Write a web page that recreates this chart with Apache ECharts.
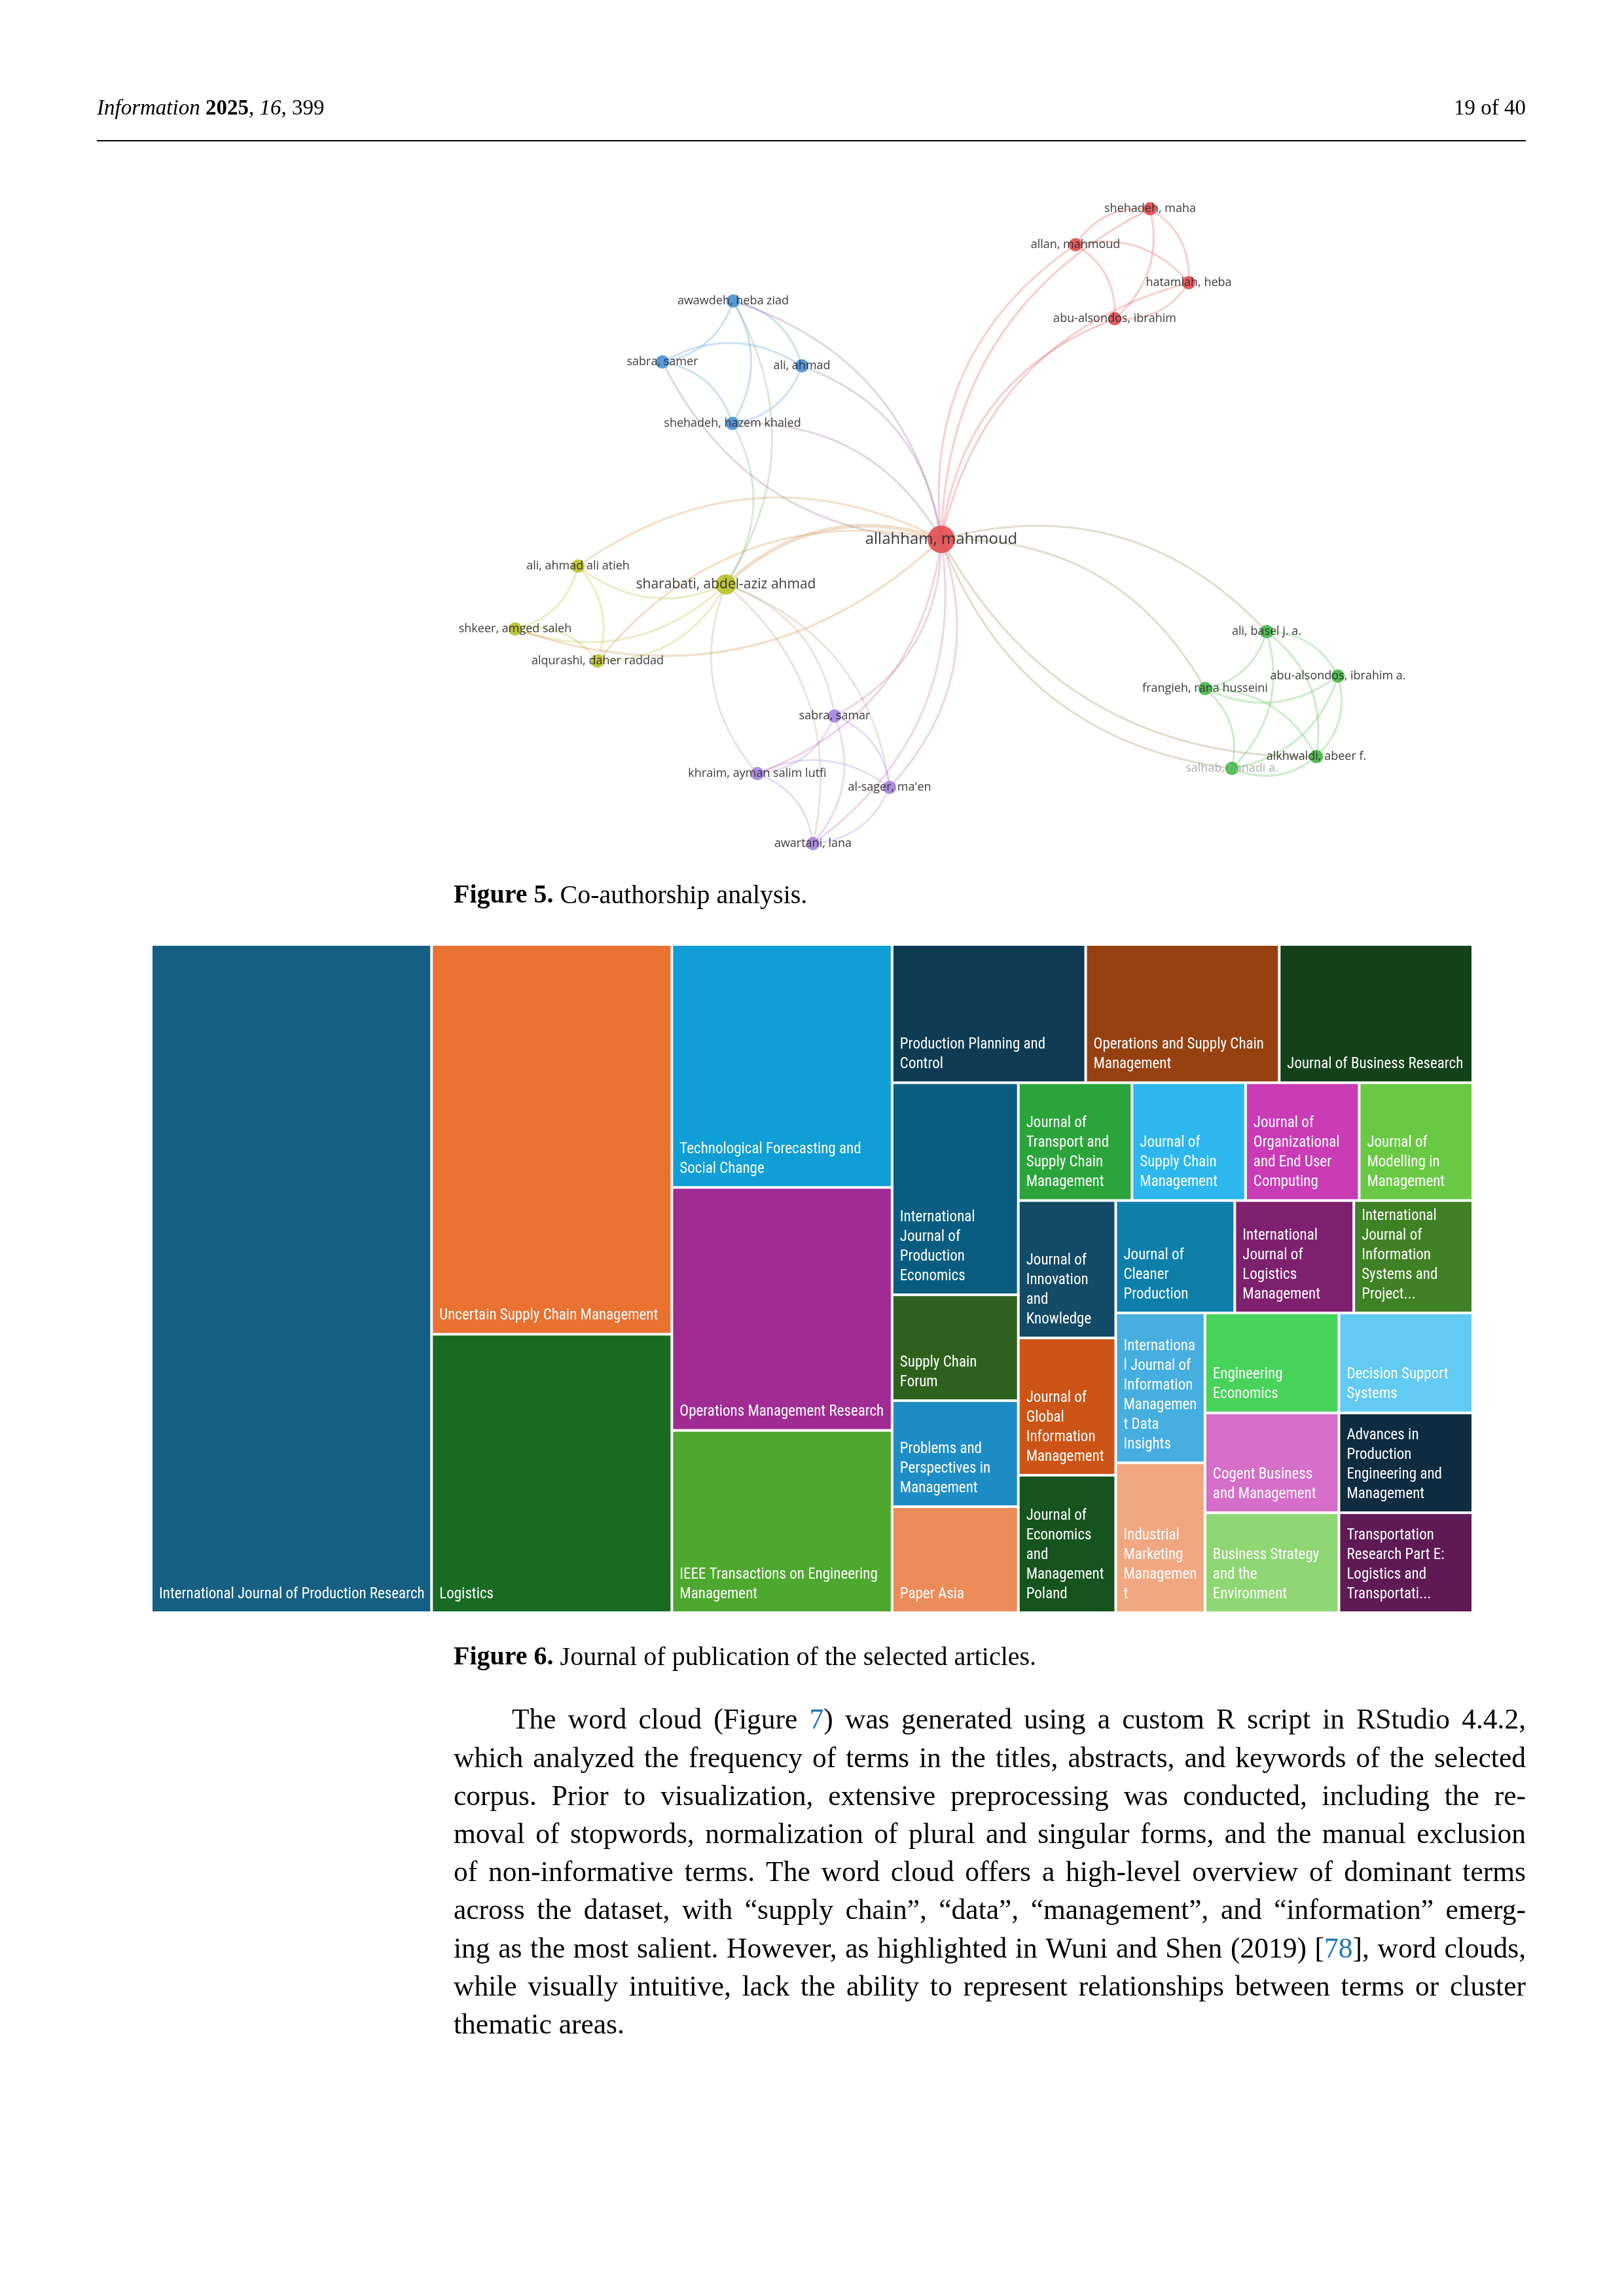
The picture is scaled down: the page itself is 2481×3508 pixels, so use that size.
<!DOCTYPE html>
<html>
<head>
<meta charset="utf-8">
<script src="https://cdn.jsdelivr.net/npm/echarts@6/dist/echarts.min.js"></script>
<style>
html,body{margin:0;padding:0;background:#fff;}
#page{width:2481px;height:3508px;}
</style>
</head>
<body>
<div id="page"></div>
<script>
// ---------------- Figure 5: co-authorship network (VOSviewer layout coordinates) ----------------
const authors = [
  'allahham, mahmoud', 'allan, mahmoud', 'shehadeh, maha', 'hatamlah, heba', 'abu-alsondos, ibrahim',
  'awawdeh, heba ziad', 'sabra, samer', 'ali, ahmad', 'shehadeh, hazem khaled',
  'sharabati, abdel-aziz ahmad', 'ali, ahmad ali atieh', 'shkeer, amged saleh', 'alqurashi, daher raddad',
  'sabra, samar', 'khraim, ayman salim lutfi', "al-sager, ma'en", 'awartani, lana',
  'ali, basel j. a.', 'abu-alsondos, ibrahim a.', 'frangieh, rana husseini', 'alkhwaldi, abeer f.', 'salhab, hanadi a.'
];
const authorX = [0, 0.410, 0.638, 0.756, 0.530, -0.636, -0.852, -0.426, -0.638, -0.658, -1.110, -1.302, -1.050,
  -0.326, -0.562, -0.158, -0.392, 0.994, 1.212, 0.806, 1.146, 0.888];
const authorY = [0, 0.900, 1.010, 0.784, 0.674, 0.728, 0.542, 0.530, 0.354, -0.138, -0.082, -0.274, -0.372,
  -0.540, -0.716, -0.758, -0.930, -0.282, -0.418, -0.456, -0.664, -0.700];
const authorDocs = [10, 2, 2, 2, 2, 2, 2, 2, 2, 6, 2, 2, 2, 2, 2, 2, 2, 2, 2, 2, 2, 2];
const authorCluster = ['red', 'red', 'red', 'red', 'red', 'blue', 'blue', 'blue', 'blue',
  'yellow', 'yellow', 'yellow', 'yellow', 'purple', 'purple', 'purple', 'purple',
  'green', 'green', 'green', 'green', 'green'];
const coauthorLinks = [
  ['allahham, mahmoud', 'allan, mahmoud', 1], ['allahham, mahmoud', 'shehadeh, maha', 1],
  ['allahham, mahmoud', 'hatamlah, heba', 1], ['allahham, mahmoud', 'abu-alsondos, ibrahim', 1],
  ['allan, mahmoud', 'shehadeh, maha', 1], ['allan, mahmoud', 'hatamlah, heba', 1],
  ['allan, mahmoud', 'abu-alsondos, ibrahim', 1], ['shehadeh, maha', 'hatamlah, heba', 1],
  ['shehadeh, maha', 'abu-alsondos, ibrahim', 1], ['hatamlah, heba', 'abu-alsondos, ibrahim', 1],
  ['awawdeh, heba ziad', 'sabra, samer', 1], ['awawdeh, heba ziad', 'ali, ahmad', 1],
  ['awawdeh, heba ziad', 'shehadeh, hazem khaled', 1], ['sabra, samer', 'ali, ahmad', 1],
  ['sabra, samer', 'shehadeh, hazem khaled', 1], ['ali, ahmad', 'shehadeh, hazem khaled', 1],
  ['awawdeh, heba ziad', 'allahham, mahmoud', 1], ['ali, ahmad', 'allahham, mahmoud', 1],
  ['shehadeh, hazem khaled', 'allahham, mahmoud', 1], ['allahham, mahmoud', 'sabra, samer', 1],
  ['awawdeh, heba ziad', 'sharabati, abdel-aziz ahmad', 1], ['shehadeh, hazem khaled', 'sharabati, abdel-aziz ahmad', 1],
  ['sharabati, abdel-aziz ahmad', 'ali, ahmad ali atieh', 1], ['sharabati, abdel-aziz ahmad', 'shkeer, amged saleh', 1],
  ['sharabati, abdel-aziz ahmad', 'alqurashi, daher raddad', 1], ['ali, ahmad ali atieh', 'shkeer, amged saleh', 1],
  ['ali, ahmad ali atieh', 'alqurashi, daher raddad', 1], ['shkeer, amged saleh', 'alqurashi, daher raddad', 1],
  ['sharabati, abdel-aziz ahmad', 'allahham, mahmoud', 3], ['ali, ahmad ali atieh', 'allahham, mahmoud', 1],
  ['allahham, mahmoud', 'shkeer, amged saleh', 1], ['alqurashi, daher raddad', 'allahham, mahmoud', 1],
  ['sharabati, abdel-aziz ahmad', 'sabra, samar', 1], ['khraim, ayman salim lutfi', 'sharabati, abdel-aziz ahmad', 1],
  ['sharabati, abdel-aziz ahmad', "al-sager, ma'en", 1], ['sharabati, abdel-aziz ahmad', 'awartani, lana', 1],
  ['sabra, samar', 'khraim, ayman salim lutfi', 1], ['sabra, samar', "al-sager, ma'en", 1],
  ['sabra, samar', 'awartani, lana', 1], ['khraim, ayman salim lutfi', "al-sager, ma'en", 1],
  ['khraim, ayman salim lutfi', 'awartani, lana', 1], ["al-sager, ma'en", 'awartani, lana', 1],
  ['allahham, mahmoud', 'sabra, samar', 1], ['allahham, mahmoud', 'khraim, ayman salim lutfi', 1],
  ['allahham, mahmoud', "al-sager, ma'en", 1], ['allahham, mahmoud', 'awartani, lana', 1],
  ['ali, basel j. a.', 'abu-alsondos, ibrahim a.', 1], ['ali, basel j. a.', 'frangieh, rana husseini', 1],
  ['ali, basel j. a.', 'alkhwaldi, abeer f.', 1], ['ali, basel j. a.', 'salhab, hanadi a.', 1],
  ['abu-alsondos, ibrahim a.', 'frangieh, rana husseini', 1], ['abu-alsondos, ibrahim a.', 'alkhwaldi, abeer f.', 1],
  ['abu-alsondos, ibrahim a.', 'salhab, hanadi a.', 1], ['frangieh, rana husseini', 'alkhwaldi, abeer f.', 1],
  ['frangieh, rana husseini', 'salhab, hanadi a.', 1], ['alkhwaldi, abeer f.', 'salhab, hanadi a.', 1],
  ['allahham, mahmoud', 'ali, basel j. a.', 1], ['allahham, mahmoud', 'frangieh, rana husseini', 1],
  ['alkhwaldi, abeer f.', 'allahham, mahmoud', 1], ['salhab, hanadi a.', 'allahham, mahmoud', 1]
];

// ---------------- Figure 6: journals treemap ----------------
const journals = [
  'International Journal of Production Research', 'Uncertain Supply Chain Management', 'Logistics',
  'Technological Forecasting and Social Change', 'Operations Management Research',
  'IEEE Transactions on Engineering Management', 'Production Planning and Control',
  'Operations and Supply Chain Management', 'Journal of Business Research',
  'International Journal of Production Economics',
  'Supply Chain Forum', 'Problems and Perspectives in Management', 'Paper Asia',
  'Journal of Transport and Supply Chain Management', 'Journal of Supply Chain Management',
  'Journal of Organizational and End User Computing', 'Journal of Modelling in Management',
  'Journal of Innovation and Knowledge', 'Journal of Global Information Management',
  'Journal of Economics and Management Poland', 'Journal of Cleaner Production',
  'International Journal of Logistics Management', 'International Journal of Information Systems and Project...',
  'International Journal of Information Management Data Insights', 'Industrial Marketing Management',
  'Engineering Economics', 'Decision Support Systems', 'Cogent Business and Management',
  'Business Strategy and the Environment', 'Advances in Production Engineering and Management',
  'Transportation Research Part E: Logistics and Transportati...'
];
const articleCounts = [14, 7, 5, 4, 4, 3, 2, 2, 2, 2,
  1, 1, 1, 1, 1, 1, 1, 1, 1, 1, 1, 1, 1, 1, 1, 1, 1, 1, 1, 1, 1];

// ---------------- styles (kept apart from data) ----------------
const clusterColors = { red: '#e24f53', blue: '#4b92d6', yellow: '#bcc22c', purple: '#a587e0', green: '#48b848' };
const journalColors = ['#156082', '#E97132', '#196B24', '#0F9ED5', '#A02B93', '#4EA72E', '#0E3B53', '#974111',
  '#13411A', '#0A5D80', '#2E611E', '#1F8DC5', '#EC8C5B', '#2CA43C', '#2DB7ED', '#C93CB6', '#6AC944', '#134A66',
  '#CC5416', '#15531F', '#0E7FAB', '#7F206F', '#3F8124', '#47AEE0', '#F1A882', '#48D35A', '#62CAF3', '#D66FC9',
  '#8FD774', '#0E2B40', '#5F1A55'];
const fadedLabels = ['salhab, hanadi a.'];

function hexToRgb(h) { h = h.replace('#', ''); return [0, 2, 4].map(i => parseInt(h.substr(i, 2), 16)); }
function linkColor(a, b, alpha) {
  const c1 = hexToRgb(clusterColors[a]), c2 = hexToRgb(clusterColors[b]);
  const m = c1.map((v, i) => Math.round((v + c2[i]) / 2));
  return 'rgba(' + m.join(',') + ',' + alpha + ')';
}
const clusterOf = {};
authors.forEach((n, i) => { clusterOf[n] = authorCluster[i]; });

const graphNodes = authors.map((n, i) => ({
  name: n,
  value: [authorX[i], authorY[i]],
  symbolSize: 15 + authorDocs[i] * 2.7,
  itemStyle: { color: clusterColors[authorCluster[i]], opacity: 0.92 },
  label: { fontSize: 18 + (authorDocs[i] - 2) * 0.75, color: fadedLabels.indexOf(n) >= 0 ? '#a8a8a8' : '#2b2b2b' }
}));
const graphLinks = coauthorLinks.map(([s, t, w]) => ({
  source: s, target: t,
  lineStyle: { width: 1.9 + w * 1.2, color: linkColor(clusterOf[s], clusterOf[t], 0.55) }
}));

// ---------------- page text ----------------
const serif = '"Liberation Serif", "Times New Roman", serif';
const graphics = [];
graphics.push({
  type: 'text', x: 148, y: 166,
  style: {
    text: '{i|Information} {b|2025}, {i|16}, 399', font: '33px ' + serif, fill: '#000', verticalAlign: 'middle',
    rich: { i: { font: 'italic 33px ' + serif }, b: { font: 'bold 33px ' + serif } }
  }
});
graphics.push({ type: 'text', x: 2331, y: 166, style: { text: '19 of 40', font: '33px ' + serif, fill: '#000', align: 'right', verticalAlign: 'middle' } });
graphics.push({ type: 'line', shape: { x1: 148, y1: 215, x2: 2331, y2: 215 }, style: { stroke: '#000', lineWidth: 2 } });
graphics.push({
  type: 'text', x: 693, y: 1369,
  style: { text: '{b|Figure 5.} Co-authorship analysis.', font: '40px ' + serif, fill: '#000', verticalAlign: 'middle',
    rich: { b: { font: 'bold 40px ' + serif } } }
});
graphics.push({
  type: 'text', x: 693, y: 2533,
  style: { text: '{b|Figure 6.} Journal of publication of the selected articles.', font: '40px ' + serif, fill: '#000', verticalAlign: 'middle',
    rich: { b: { font: 'bold 40px ' + serif } } }
});

const bodyLines = [
  'The word cloud (Figure {c|7}) was generated using a custom R script in RStudio 4.4.2,',
  'which analyzed the frequency of terms in the titles, abstracts, and keywords of the selected',
  'corpus. Prior to visualization, extensive preprocessing was conducted, including the re-',
  'moval of stopwords, normalization of plural and singular forms, and the manual exclusion',
  'of non-informative terms. The word cloud offers a high-level overview of dominant terms',
  'across the dataset, with \u201Csupply chain\u201D, \u201Cdata\u201D, \u201Cmanagement\u201D, and \u201Cinformation\u201D emerg-',
  'ing as the most salient. However, as highlighted in Wuni and Shen (2019) [{c|78}], word clouds,',
  'while visually intuitive, lack the ability to represent relationships between terms or cluster',
  'thematic areas.'
];
const strip = s => s.replace(/\{c\|([^}]*)\}/g, '$1');
const mctx = document.createElement('canvas').getContext('2d');
// choose a font size so that the widest justified line keeps normal word spacing
mctx.font = '42px ' + serif;
let worstRatio = 0;
bodyLines.slice(0, -1).forEach((line, i) => {
  const avail = i === 0 ? 2331 - 782 : 2331 - 693;
  worstRatio = Math.max(worstRatio, mctx.measureText(strip(line)).width / avail);
});
const bodySize = Math.min(46, 42 * 0.985 / worstRatio);
const bodyFont = bodySize.toFixed(1) + 'px ' + serif;
mctx.font = bodyFont;
bodyLines.forEach((line, i) => {
  const words = line.split(' ');
  const x0 = i === 0 ? 782 : 693;
  const right = 2331;
  const widths = words.map(w => mctx.measureText(strip(w)).width);
  const total = widths.reduce((a, b) => a + b, 0);
  const last = i === bodyLines.length - 1;
  const gap = last ? mctx.measureText(' ').width : (right - x0 - total) / (words.length - 1);
  let x = x0;
  words.forEach((w, j) => {
    graphics.push({
      type: 'text', x: x, y: 2630 + i * 58.2,
      style: { text: w, font: bodyFont, fill: '#000', verticalAlign: 'middle',
        rich: { c: { font: bodyFont, fill: '#1a74b8' } } }
    });
    x += widths[j] + gap;
  });
});

// ---------------- chart ----------------
const chart = echarts.init(document.getElementById('page'), null, { renderer: 'canvas' });
chart.setOption({
  backgroundColor: '#ffffff',
  animation: false,
  grid: { left: 638, top: 224, width: 1600, height: 1100, show: false },
  xAxis: { type: 'value', min: -1.6, max: 1.6, show: false },
  yAxis: { type: 'value', min: -1.0, max: 1.2, show: false },
  graphic: graphics,
  series: [
    {
      type: 'graph',
      coordinateSystem: 'cartesian2d',
      data: graphNodes,
      links: graphLinks,
      lineStyle: { curveness: 0.3 },
      label: { show: true, position: 'inside', fontFamily: '"Open Sans", sans-serif' },
      emphasis: { disabled: true },
      z: 2
    },
    {
      type: 'treemap',
      left: 233, top: 1445, width: 2015, height: 1017,
      roam: false, nodeClick: false, sort: false, squareRatio: 0.85,
      breadcrumb: { show: false },
      itemStyle: { borderWidth: 0, gapWidth: 0 },
      levels: [{ itemStyle: { gapWidth: 4, borderWidth: 0 } }],
      label: {
        show: true, position: 'insideBottomLeft', distance: 0, padding: [0, 8, 11, 10], color: '#fff',
        fontSize: 23, lineHeight: 30, overflow: 'break',
        fontFamily: '"Liberation Sans Narrow", "Roboto Condensed", Roboto, sans-serif'
      },
      emphasis: { disabled: true },
      data: journals.map((n, i) => ({ name: n, value: articleCounts[i], itemStyle: { color: journalColors[i] } }))
    }
  ]
});
</script>
</body>
</html>
